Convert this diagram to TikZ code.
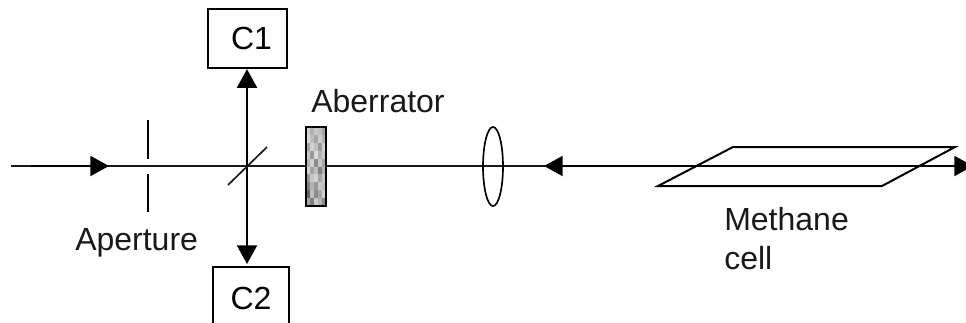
\documentclass[tikz,border=0pt]{standalone}
\usepackage{fontspec}
\setmainfont{Liberation Sans}
\usetikzlibrary{positioning,arrows.meta,shapes.geometric}
\tikzset{
  beam/.style={line width=1.25pt,black!90},
  ray/.style={line width=1.5pt,black,-{Triangle[length=14pt,width=15pt]}},
  part/.style={line width=1.5pt,black},
  label/.style={font=\fontsize{24}{28}\selectfont,inner sep=0pt,anchor=base west,text=black!90},
  detector/.style={draw,line width=1.5pt,black,inner sep=0pt,font=\fontsize{24}{28}\selectfont}
}
\begin{document}
\begin{tikzpicture}[x=0.75pt,y=-0.75pt]
\useasboundingbox (0,0) rectangle (966,322);
% Detectors
\node[detector,minimum width=59.5pt,minimum height=44.5pt] (c1) at (247.5,38.5) {\hspace{6pt}C1};
\node[detector,minimum width=57pt,minimum height=46.5pt] (c2) at (251,298) {C2};

% Beam line
\coordinate (start) at (11,166);
\coordinate (thick) at (31,166);
\coordinate (arrowin) at (109,166);
\coordinate (split) at (247,166);
\coordinate (arrowback) at (544,166);
\coordinate (backend) at (620,166);
\coordinate (stop) at (973,166);
\coordinate (c2top) at (247,264);
\draw[beam] (start) -- (stop);
\draw[ray] (thick) -- (arrowin);
\draw[ray] (backend) -- (arrowback);
\draw[ray] (backend) -- (stop);
\draw[ray] (split) -- (split |- c1.south);
\draw[ray] (split) -- (c2top);

% Aperture
\coordinate (ap1) at (148,120);
\coordinate (ap2) at (148,159);
\coordinate (ap3) at (148,174);
\coordinate (ap4) at (148,212);
\draw[part] (ap1) -- (ap2);
\draw[part] (ap3) -- (ap4);

% Beam splitter
\coordinate (bs1) at (228,185);
\coordinate (bs2) at (267,147);
\draw[beam] (bs1) -- (bs2);

% Aberrator
\foreach \i/\row in {0/{18,30,22,25,35},1/{14,26,35,20,30},2/{35,18,25,40,18},3/{22,40,14,30,22},4/{30,18,45,22,35},5/{18,35,25,50,30},6/{40,22,18,35,22},7/{50,30,40,22,25},8/{60,25,45,35,18},9/{35,50,22,30,45}}{
  \foreach \g [count=\j from 0] in \row {
    \fill[black!\g] (306+4*\j,127+7.9*\i) rectangle (310+4*\j,134.9+7.9*\i);
  }
}
\node[draw,line width=1.5pt,black,minimum width=15pt,minimum height=59.25pt,inner sep=0pt] (aberrator) at (316,166.5) {};

% Lens
\node[draw,ellipse,line width=1.25pt,black,minimum width=15pt,minimum height=59.25pt,inner sep=0pt] (lens) at (493,166.5) {};

% Methane cell
\coordinate (cell1) at (658,186);
\coordinate (cell2) at (882,186);
\coordinate (cell3) at (955,147);
\coordinate (cell4) at (733,147);
\draw[part] (cell1) -- (cell2) -- (cell3) -- (cell4) -- cycle;

% Labels
\node[label] (aplabel) at (75,250) {Aperture};
\node[label] (ablabel) at (311,112) {Aberrator};
\node[label] (melabel) at (724,230) {Methane};
\node[label] (celllabel) at (724,269) {cell};
\end{tikzpicture}
\end{document}
